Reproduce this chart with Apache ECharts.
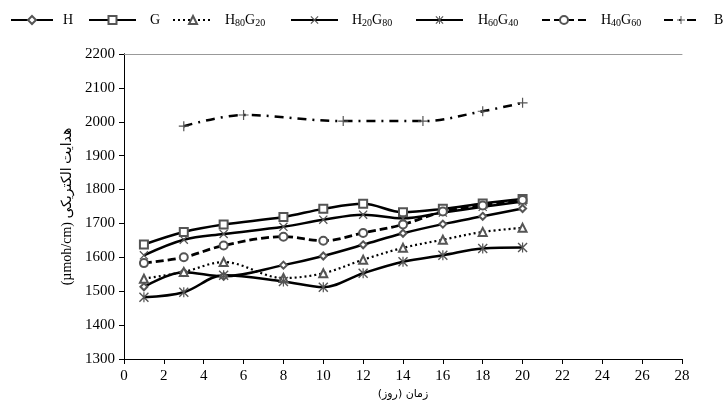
<!DOCTYPE html>
<html>
<head>
<meta charset="utf-8">
<script src="https://cdn.jsdelivr.net/npm/echarts@6/dist/echarts.min.js"></script>
<style>
  html, body { margin: 0; padding: 0; background: #fff; }
  #chart { width: 725px; height: 407px; }
</style>
</head>
<body>
<div id="chart"></div>
<script>
// days (x values) and conductivity readings
var days = [1, 3, 5, 8, 10, 12, 14, 16, 18, 20]
var daysB = [3, 6, 11, 15, 18, 20]

var valH = [1513, 1556, 1544, 1577, 1604, 1637, 1671, 1698, 1721, 1744]
var valG = [1638, 1675, 1697, 1719, 1743, 1758, 1733, 1743, 1759, 1772]
var valH80G20 = [1537, 1557, 1586, 1539, 1553, 1593, 1628, 1652, 1675, 1687]
var valH20G80 = [1606, 1652, 1669, 1690, 1711, 1726, 1715, 1732, 1749, 1765]
var valH60G40 = [1482, 1497, 1547, 1529, 1512, 1553, 1587, 1606, 1626, 1629]
var valH40G60 = [1583, 1600, 1635, 1661, 1649, 1672, 1697, 1735, 1753, 1769]
var valB = [1987, 2020, 2002, 2002, 2031, 2056]

var seriesNames = ['H', 'G', 'H80G20', 'H20G80', 'H60G40', 'H40G60', 'B']
var legendLabels = ['H', 'G', 'H{s|80}G{s|20}', 'H{s|20}G{s|80}', 'H{s|60}G{s|40}', 'H{s|40}G{s|60}', 'B']

var serif = 'Liberation Serif, DejaVu Serif, serif'

function pairs(xs, ys) {
  var out = []
  for (var i = 0; i < xs.length; i++) {
    out.push([xs[i], ys[i]])
  }
  return out
}

var crossPath = 'path://M0,1 L1,0 L10,9 L9,10 Z M9,0 L10,1 L1,10 L0,9 Z'
var plusPath = 'path://M4.4,0 L5.6,0 L5.6,10 L4.4,10 Z M0,4.4 L10,4.4 L10,5.6 L0,5.6 Z'
var starPath = 'path://M0,1 L1,0 L10,9 L9,10 Z M9,0 L10,1 L1,10 L0,9 Z M4.4,0 L5.6,0 L5.6,10 L4.4,10 Z'

// empty* symbols use color as the stroke and white as the fill
var hollow = { color: '#555', borderWidth: 1 }
var filled = { color: '#555' }

function line(name, data, symbol, size, item, lineType, width) {
  return {
    name: name,
    type: 'line',
    data: data,
    smooth: 0.35,
    symbol: symbol,
    symbolSize: size,
    showAllSymbol: true,
    itemStyle: item,
    lineStyle: { color: '#000', width: width, type: lineType },
    z: 3
  }
}

var series = [
  line('H', pairs(days, valH), 'emptyDiamond', 7, hollow, 'solid', 2.5),
  line('G', pairs(days, valG), 'emptyRect', 8, hollow, 'solid', 2.5),
  line('H80G20', pairs(days, valH80G20), 'emptyTriangle', 8, hollow, [2, 3], 2.2),
  line('H20G80', pairs(days, valH20G80), crossPath, 9, filled, 'solid', 2.5),
  line('H60G40', pairs(days, valH60G40), starPath, 10, filled, 'solid', 2.5),
  line('H40G60', pairs(days, valH40G60), 'emptyCircle', 8, hollow, [8, 4], 2.8),
  line('B', pairs(daysB, valB), plusPath, 10, filled, [9, 6, 2, 6], 2.5)
]

// one legend per entry so each sits where it does in the picture
var legendPos = [
  [10, 42, 5], [88, 47, 9], [172, 40, 7], [290, 47, 9],
  [415, 47, 10], [541, 44, 10], [663, 34, 11]
]
var legends = []
for (var i = 0; i < seriesNames.length; i++) {
  (function(i) {
    legends.push({
      data: [seriesNames[i]],
      left: legendPos[i][0],
      top: 12,
      padding: 0,
      itemWidth: legendPos[i][1],
      itemHeight: 10,
      selectedMode: false,
      formatter: function() { return legendLabels[i] },
      textStyle: {
        fontFamily: serif,
        fontSize: 14,
        color: '#000',
        lineHeight: 16,
        padding: [0, 0, 0, legendPos[i][2]],
        rich: {
          s: { fontFamily: serif, fontSize: 10, color: '#000', verticalAlign: 'bottom', lineHeight: 16 }
        }
      }
    })
  })(i)
}

var chart = echarts.init(document.getElementById('chart'), null, { renderer: 'canvas' })
chart.setOption({
  animation: false,
  backgroundColor: '#fff',
  legend: legends,
  grid: { left: 124, right: 43, top: 54, bottom: 48 },
  xAxis: [{
    type: 'value',
    min: 0,
    max: 28,
    interval: 2,
    name: 'زمان (روز)\u200F',
    nameLocation: 'middle',
    nameGap: 30,
    nameTextStyle: { fontFamily: 'DejaVu Sans, sans-serif', fontSize: 11, color: '#000' },
    axisLine: { lineStyle: { color: '#000', width: 1 } },
    axisTick: { inside: false, length: 5, lineStyle: { color: '#000' } },
    axisLabel: { fontFamily: serif, fontSize: 15, color: '#000', margin: 10, formatter: function(v) { return String(v) } },
    splitLine: { show: false }
  }, {
    type: 'value',
    position: 'top',
    min: 0,
    max: 28,
    axisLine: { show: true, lineStyle: { color: '#999', width: 1 } },
    axisTick: { show: false },
    axisLabel: { show: false },
    splitLine: { show: false }
  }],
  yAxis: [{
    type: 'value',
    min: 1300,
    max: 2200,
    interval: 100,
    name: '(µmoh/cm) هدایت الکتریکی',
    nameLocation: 'middle',
    nameGap: 50,
    nameRotate: 90,
    nameTextStyle: { fontFamily: 'Liberation Serif, DejaVu Sans, serif', fontSize: 14, color: '#000' },
    axisLine: { show: true, lineStyle: { color: '#000', width: 1 } },
    axisTick: { show: true, inside: false, length: 5, lineStyle: { color: '#000' } },
    axisLabel: { fontFamily: serif, fontSize: 15, color: '#000', margin: 9, formatter: function(v) { return String(v) } },
    splitLine: { show: false }
  }, {
    type: 'value',
    position: 'right',
    min: 1300,
    max: 2200,
    axisLine: { show: true, lineStyle: { color: '#000', width: 1 } },
    axisTick: { show: false },
    axisLabel: { show: false },
    splitLine: { show: false }
  }],
  series: series
})
</script>
</body>
</html>
